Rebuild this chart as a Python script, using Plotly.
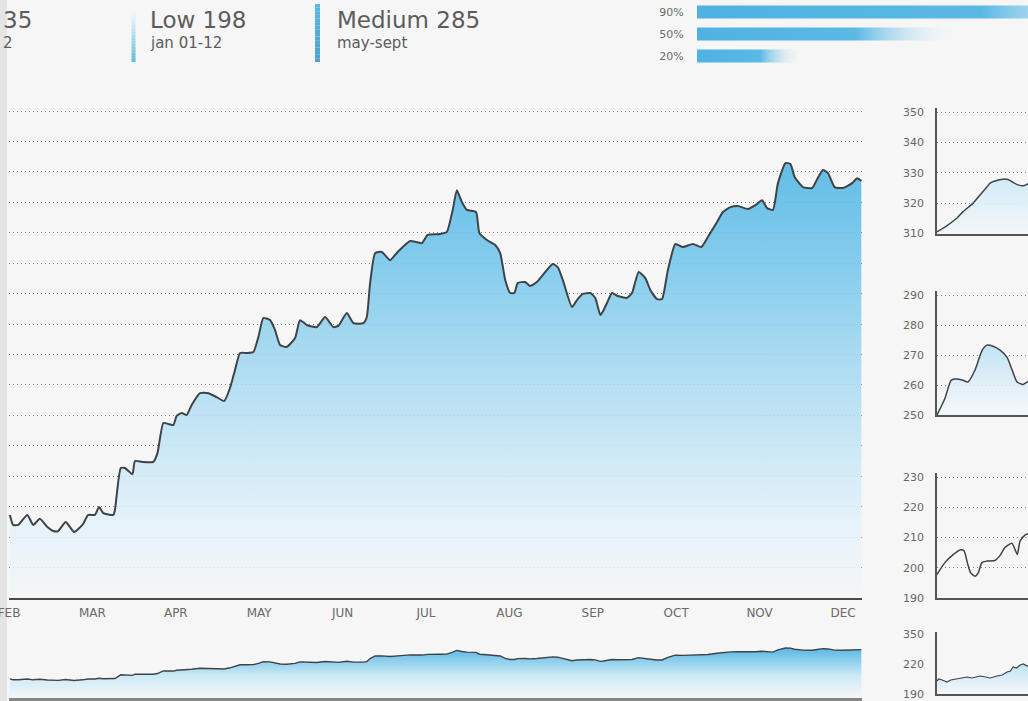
import plotly.graph_objects as go

W, H = 1028, 701
FONT = "DejaVu Sans"
TEXT = "#5a5a5a"
LINE = "#3e4347"
GRID = "#7c7c7c"


def fx(p):
    return p / W


def fy(p):
    return 1 - p / H


def cl(v):
    return min(1.0, max(0.0, v))


# ---------------- data ----------------
months = ["FEB", "MAR", "APR", "MAY", "JUN", "JUL", "AUG", "SEP", "OCT", "NOV", "DEC"]
month_pos = list(range(len(months)))

main_x = [0.01, 0.05, 0.11, 0.22, 0.29, 0.37, 0.46, 0.53, 0.59, 0.68,
          0.78, 0.88, 0.95, 1.03, 1.08, 1.13, 1.25, 1.27, 1.34, 1.39,
          1.48, 1.51, 1.60, 1.73, 1.78, 1.85, 1.91, 1.97, 2.01, 2.07,
          2.13, 2.19, 2.29, 2.39, 2.49, 2.58, 2.65, 2.71, 2.77, 2.85,
          2.93, 2.99, 3.05, 3.13, 3.19, 3.25, 3.33, 3.43, 3.49, 3.57,
          3.69, 3.79, 3.89, 3.95, 4.05, 4.13, 4.25, 4.29, 4.33, 4.39,
          4.47, 4.57, 4.66, 4.81, 4.95, 5.02, 5.17, 5.25, 5.32, 5.37,
          5.43, 5.49, 5.60, 5.64, 5.73, 5.83, 5.89, 5.95, 6.01, 6.06,
          6.10, 6.19, 6.25, 6.33, 6.43, 6.52, 6.58, 6.64, 6.75, 6.81,
          6.88, 6.97, 7.03, 7.09, 7.13, 7.17, 7.23, 7.30, 7.41, 7.47,
          7.55, 7.63, 7.69, 7.77, 7.83, 7.90, 7.99, 8.08, 8.20, 8.30,
          8.38, 8.49, 8.56, 8.65, 8.74, 8.86, 8.95, 9.03, 9.09, 9.16,
          9.22, 9.31, 9.37, 9.42, 9.52, 9.63, 9.69, 9.76, 9.82, 9.90,
          10.00, 10.11, 10.17, 10.22]
main_y = [217.3, 214.0, 214.0, 217.3, 214.0, 216.0, 213.3, 212.0, 212.0, 215.0,
          211.7, 214.0, 217.3, 217.3, 219.9, 217.9, 217.3, 218.9, 232.7, 232.7,
          230.7, 235.0, 234.7, 234.7, 237.6, 247.5, 247.2, 246.8, 249.8, 250.8,
          250.1, 253.4, 257.3, 257.3, 256.0, 254.7, 259.0, 264.9, 270.5, 270.5,
          270.8, 275.7, 282.0, 281.3, 278.0, 273.1, 272.5, 275.4, 281.3, 279.7,
          279.0, 282.3, 279.0, 279.4, 283.6, 280.3, 280.3, 282.3, 293.5, 303.3,
          303.7, 301.0, 303.7, 307.3, 306.6, 309.3, 309.6, 310.3, 317.5, 324.0,
          320.1, 317.5, 316.8, 309.9, 307.6, 306.0, 303.3, 294.5, 290.2, 290.2,
          293.5, 293.8, 292.5, 293.8, 297.1, 299.7, 298.7, 294.5, 285.6, 287.9,
          289.9, 290.2, 288.6, 283.0, 284.6, 286.9, 290.2, 289.2, 288.6, 290.2,
          297.1, 295.1, 291.2, 288.2, 288.2, 297.7, 306.3, 305.3, 306.3, 305.3,
          308.6, 313.5, 316.8, 318.4, 318.8, 317.8, 319.1, 320.7, 318.1, 317.5,
          326.3, 332.9, 332.6, 328.3, 325.0, 324.7, 327.6, 330.6, 329.6, 325.0,
          324.7, 326.3, 327.9, 327.0]

pct_labels = ["90%", "50%", "20%"]
pct_values = [90, 50, 20]

stat_titles = ["35", "Low 198", "Medium 285"]
stat_subs = ["2", "jan 01-12", "may-sept"]

r1_x = [0, 3.3, 6.6, 8.6, 11.9, 14.2, 16.5, 17.5, 19.1, 21.8, 23.4, 25.1, 26.7, 28.4, 29.7, 31]
r1_y = [310.5, 312.6, 315.1, 317.2, 320.0, 322.7, 325.4, 326.6, 327.3, 327.9, 327.8, 326.8, 326.0, 325.7, 326.2, 326.8]

r2_x = [0, 2.6, 4.6, 5.9, 8.3, 10.2, 12.5, 14.9, 16.5, 18.5, 20.8, 23.1, 24.8, 26.4, 28.4, 29.7, 31]
r2_y = [250.0, 255.5, 261.5, 262.0, 261.7, 261.0, 264.9, 271.6, 273.3, 272.9, 271.6, 269.2, 264.9, 261.0, 260.2, 261.0, 262.0]

r3_x = [0, 2.6, 5.4, 7.6, 8.9, 10.0, 11.1, 12.5, 13.6, 14.8, 16.4, 19.1, 20.8, 22.4, 24.7, 25.7, 26.5, 27.4, 29.0, 29.6, 31]
r3_y = [197.8, 201.7, 204.4, 205.9, 205.6, 201.7, 198.3, 197.2, 198.3, 201.7, 202.2, 202.4, 204.1, 206.7, 208.1, 206.1, 204.4, 208.9, 210.8, 211.1, 211.5]

r4_x = [0, 0.6, 1.7, 3.3, 4.5, 6.6, 8.0, 9.9, 11.5, 14.2, 16.0, 17.5, 19.8, 21.5, 23.1, 24.2, 25.1, 26.2, 27.4, 28.5, 29.7, 31]
r4_y = [203, 205, 204, 202, 204, 205, 206, 207, 206, 208, 207, 206, 208, 209, 212, 213, 217, 216, 219, 220, 218, 219]
r4_ticks = [190, 220, 250]
r4_ticktext = ["190", "220", "350"]

# ---------------- figure ----------------
fig = go.Figure()

main_scale = [[0, "rgba(244,246,247,0.85)"], [0.18, "rgba(226,242,250,0.85)"],
              [0.5, "rgba(170,219,242,0.85)"], [0.78, "rgba(118,199,236,0.88)"],
              [1, "rgba(86,184,228,0.9)"]]

fig.add_trace(go.Scatter(
    x=main_x, y=main_y, mode="lines", xaxis="x", yaxis="y",
    line=dict(color=LINE, width=2, shape="spline", smoothing=0.5),
    fill="tozeroy",
    fillgradient=dict(type="vertical", start=190, stop=330, colorscale=main_scale),
    hoverinfo="skip", showlegend=False))

fig.add_trace(go.Scatter(
    x=main_x, y=main_y, mode="lines", xaxis="x2", yaxis="y2",
    line=dict(color=LINE, width=1.4),
    fill="tozeroy",
    fillgradient=dict(type="vertical", start=150, stop=330,
                      colorscale=[[0, "#f3f6f8"], [0.45, "#cbe9f6"], [1, "#5cb9e4"]]),
    hoverinfo="skip", showlegend=False))

for i, v in enumerate(pct_values):
    fig.add_trace(go.Scatter(
        x=[0, v, v, 0, 0], y=[i - 0.3, i - 0.3, i + 0.3, i + 0.3, i - 0.3],
        mode="lines", xaxis="x3", yaxis="y3", line=dict(width=0),
        fill="toself",
        fillgradient=dict(type="horizontal", start=0, stop=v,
                          colorscale=[[0, "#4fb2e2"], [0.6, "#5ab8e5"],
                                      [1, "rgba(246,246,246,0)"]]),
        hoverinfo="skip", showlegend=False))

fig.add_trace(go.Scatter(
    x=r1_x, y=r1_y, mode="lines", xaxis="x4", yaxis="y4",
    line=dict(color=LINE, width=1.5, shape="spline", smoothing=0.6),
    fill="tozeroy",
    fillgradient=dict(type="vertical", start=310, stop=329,
                      colorscale=[[0, "rgba(240,246,250,0.7)"], [1, "#cfe9f6"]]),
    hoverinfo="skip", showlegend=False))

fig.add_trace(go.Scatter(
    x=r2_x, y=r2_y, mode="lines", xaxis="x5", yaxis="y5",
    line=dict(color=LINE, width=1.5, shape="spline", smoothing=0.6),
    fill="tozeroy",
    fillgradient=dict(type="vertical", start=250, stop=274,
                      colorscale=[[0, "rgba(242,247,250,0.7)"], [1, "#bfe2f4"]]),
    hoverinfo="skip", showlegend=False))

fig.add_trace(go.Scatter(
    x=r3_x, y=r3_y, mode="lines", xaxis="x6", yaxis="y6",
    line=dict(color=LINE, width=1.5, shape="spline", smoothing=0.6),
    hoverinfo="skip", showlegend=False))

fig.add_trace(go.Scatter(
    x=r4_x, y=r4_y, mode="lines", xaxis="x7", yaxis="y7",
    line=dict(color=LINE, width=1.2),
    fill="tozeroy",
    fillgradient=dict(type="vertical", start=190, stop=220,
                      colorscale=[[0, "rgba(242,247,250,0.7)"], [1, "#bde1f3"]]),
    hoverinfo="skip", showlegend=False))

tickfont = dict(family=FONT, size=11, color="#666666")
grid = dict(showgrid=True, gridcolor=GRID, gridwidth=1, griddash="1px,3px")


def padded(bot_px, top_tick_px, bot_val, top_val, pad=4.0):
    """Domain top a few pixels above the top tick, so its gridline is drawn."""
    per = (bot_px - top_tick_px) / (top_val - bot_val)
    return top_tick_px - pad, top_val + pad / per


main_top, main_top_val = padded(598.0, 111.0, 190, 350)

layout = dict(
    width=W, height=H, margin=dict(l=0, r=0, t=0, b=0, autoexpand=False),
    paper_bgcolor="#f6f6f6", plot_bgcolor="rgba(0,0,0,0)",
    font=dict(family=FONT, color=TEXT),
    showlegend=False,
    xaxis=dict(domain=[fx(8.6), fx(862)], range=[-0.005, 10.228], automargin=False,
               tickvals=month_pos, ticktext=months, showgrid=False, zeroline=False,
               showline=True, linecolor="#4a4a4a", linewidth=2,
               ticks="outside", ticklen=3, tickcolor="rgba(0,0,0,0)",
               ticklabeloverflow="allow",
               tickfont=dict(family=FONT, size=12, color="#6a6a6a")),
    yaxis=dict(domain=[fy(598.0), fy(main_top)], range=[190, main_top_val], dtick=10,
               tick0=190, automargin=False,
               showticklabels=False, zeroline=False, showline=False, **grid),
    xaxis2=dict(domain=[fx(8.6), fx(862)], range=[-0.005, 10.228], showticklabels=False,
                automargin=False,
                showgrid=False, zeroline=False, showline=True, linecolor="#858585",
                linewidth=3, ticks=""),
    yaxis2=dict(domain=[cl(fy(698)), fy(640)], range=[146, 363], visible=False,
                automargin=False),
    xaxis3=dict(domain=[fx(697), 1], range=[0, 62.9], visible=False, automargin=False),
    yaxis3=dict(domain=[fy(67), fy(1)], range=[2.5, -0.5], tickvals=[0, 1, 2],
                ticktext=pct_labels, showgrid=False, zeroline=False, showline=False,
                automargin=False,
                ticks="outside", ticklen=10, tickcolor="rgba(0,0,0,0)",
                tickfont=dict(family=FONT, size=11, color="#6a6a6a")),
)

# (x axis, y axis, bottom px, top-tick px, bottom value, top value, tickvals, ticktext)
right_specs = [
    ("x4", "y4", 233.5, 112.0, 310, 350, None, None),
    ("x5", "y5", 415.0, 295.0, 250, 290, None, None),
    ("x6", "y6", 598.0, 477.0, 190, 230, None, None),
    ("x7", "y7", 694.0, 632.0, 190, 252, r4_ticks, r4_ticktext),
]
for xa, ya, bot, ttop, bv, tv_, tv, tt in right_specs:
    xk = "xaxis" + xa[1:]
    yk = "yaxis" + ya[1:]
    layout[xk] = dict(domain=[fx(937), 1], range=[0, 30], showticklabels=False,
                      showgrid=False, zeroline=False, showline=True, automargin=False,
                      linecolor="#555555", linewidth=1.5, ticks="", anchor=ya)
    if tv is None:
        top_px, top_val = padded(bot, ttop, bv, tv_)
    else:
        top_px, top_val = ttop, tv_
    yd = dict(domain=[cl(fy(bot)), fy(top_px)], range=[bv, top_val], zeroline=False,
              showline=True, linecolor="#555555", linewidth=1.5, anchor=xa,
              automargin=False,
              ticks="outside", ticklen=9, tickcolor="rgba(0,0,0,0)", tickfont=tickfont)
    if tv is None:
        yd.update(dtick=10, tick0=bv, **grid)
    else:
        yd.update(tickvals=tv, ticktext=tt, showgrid=False)
    layout[yk] = yd

layout["xaxis2"]["anchor"] = "y2"
layout["yaxis2"]["anchor"] = "x2"
layout["xaxis3"]["anchor"] = "y3"
layout["yaxis3"]["anchor"] = "x3"

fig.update_layout(**layout)

# ---------------- header stats ----------------
ann = []
pos_x = [1, 148, 335]
for t, s, px in zip(stat_titles, stat_subs, pos_x):
    ann.append(dict(text=t, x=fx(px), y=fy(20), xref="paper", yref="paper",
                    xanchor="left", yanchor="middle", showarrow=False,
                    font=dict(family=FONT, size=23, color="#5c5c5c")))
    ann.append(dict(text=s, x=fx(px), y=fy(43), xref="paper", yref="paper",
                    xanchor="left", yanchor="middle", showarrow=False,
                    font=dict(family=FONT, size=15, color="#5c5c5c")))
fig.update_layout(annotations=ann)

shapes = []
shapes.append(dict(type="rect", xref="paper", yref="paper", x0=0, x1=fx(7),
                   y0=0, y1=1, fillcolor="#e4e4e4", line=dict(width=0), layer="below"))


def mix(c1, c2, t):
    return "rgb(%d,%d,%d)" % tuple(round(a + (b - a) * t) for a, b in zip(c1, c2))


n = 16
top_c, bot_c = (240, 247, 250), (92, 188, 215)
y0, y1 = 13, 62
for k in range(n):
    a = y0 + (y1 - y0) * k / n
    b = y0 + (y1 - y0) * (k + 1) / n
    shapes.append(dict(type="rect", xref="paper", yref="paper", x0=fx(131.5), x1=fx(135.5),
                       y0=fy(b), y1=fy(a), fillcolor=mix(top_c, bot_c, (k + 0.5) / n),
                       line=dict(width=0)))
top_c, bot_c = (90, 184, 226), (76, 160, 205)
y0, y1 = 4, 62
for k in range(n):
    a = y0 + (y1 - y0) * k / n
    b = y0 + (y1 - y0) * (k + 1) / n
    shapes.append(dict(type="rect", xref="paper", yref="paper", x0=fx(315), x1=fx(320),
                       y0=fy(b), y1=fy(a), fillcolor=mix(top_c, bot_c, (k + 0.5) / n),
                       line=dict(width=0)))
fig.update_layout(shapes=shapes)

fig.write_html("out.html", config={"displayModeBar": False},
               post_script="document.body.style.margin='0';")
